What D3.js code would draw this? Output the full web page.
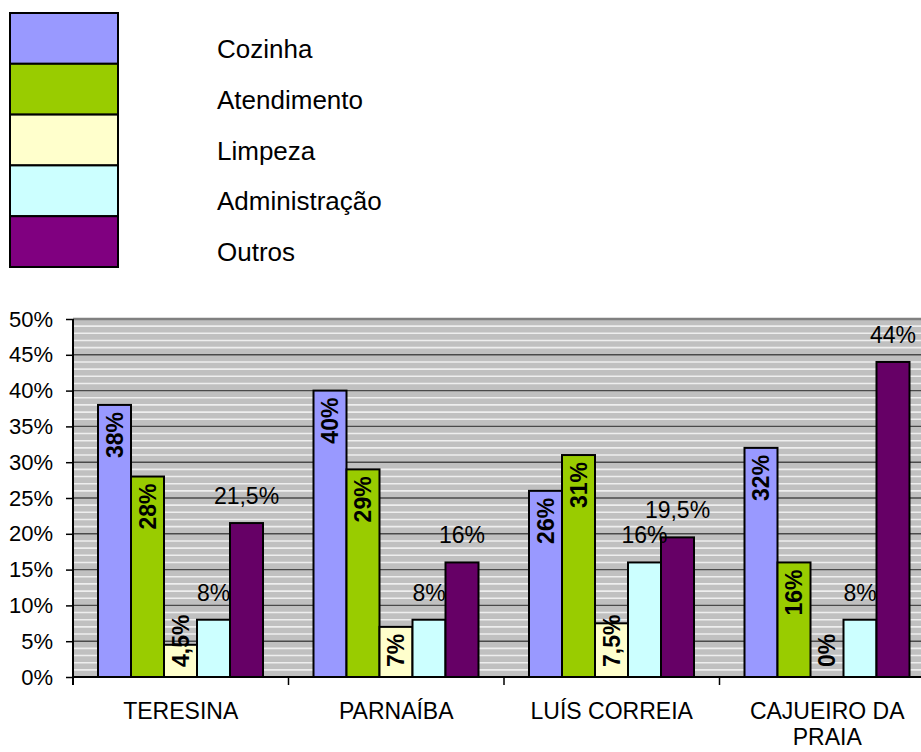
<!DOCTYPE html>
<html>
<head>
<meta charset="utf-8">
<script src="https://cdn.jsdelivr.net/npm/d3@7"></script>
<style>
  html, body { margin: 0; padding: 0; background: #fff; }
  svg { display: block; font-family: "Liberation Sans", Arial, sans-serif; }
</style>
</head>
<body>
<svg id="chart" width="921" height="752"></svg>
<script>
// ---- data ----
const categories = ["TERESINA", "PARNAÍBA", "LUÍS CORREIA", "CAJUEIRO DA PRAIA"];
const seriesNames = ["Cozinha", "Atendimento", "Limpeza", "Administração", "Outros"];
const cozinha = [38, 40, 26, 32];
const atendimento = [28, 29, 31, 16];
const limpeza = [4.5, 7, 7.5, 0];
const administracao = [8, 8, 16, 8];
const outros = [21.5, 16, 19.5, 44];
const yTickValues = [0, 5, 10, 15, 20, 25, 30, 35, 40, 45, 50];

(function() {
// ---- styles ----
const barColors = ["#9999ff", "#99cc00", "#ffffcc", "#ccffff", "#660066"];
const legendColors = ["#9999ff", "#99cc00", "#ffffcc", "#ccffff", "#800080"];
const labelModes = ["inside", "inside", "inside", "above", "above"];

const seriesValues = [cozinha, atendimento, limpeza, administracao, outros];
const fmt = v => String(v).replace(".", ",") + "%";

const svg = d3.select("#chart");
const pLeft = 73, pTop = 319, pBottom = 677, bandW = 215.5;
const pRight = pLeft + bandW * categories.length;

const x0 = d3.scaleBand().domain(categories).range([pLeft, pRight]).paddingInner(0).paddingOuter(0);
const x1 = d3.scaleBand().domain(seriesNames).range([25, bandW - 25.5]).padding(0);
const y = d3.scaleLinear().domain([0, 50]).range([pBottom, pTop]);

// ---- plot background ----
svg.append("rect").attr("x", pLeft).attr("y", pTop).attr("width", pRight - pLeft).attr("height", pBottom - pTop)
  .attr("fill", "#c0c0c0");

// minor stripes at each 1%
const minor = d3.range(1, 50).filter(v => v % 5 !== 0);
svg.append("g").selectAll("line").data(minor).join("line")
  .attr("x1", pLeft).attr("x2", pRight)
  .attr("y1", d => y(d)).attr("y2", d => y(d))
  .attr("stroke", "#eeeeee").attr("stroke-width", 1.6);

// major gridlines
svg.append("g").selectAll("line").data(yTickValues.filter(v => v > 0 && v < 50)).join("line")
  .attr("x1", pLeft).attr("x2", pRight)
  .attr("y1", d => y(d)).attr("y2", d => y(d))
  .attr("stroke", "#4a4a4a").attr("stroke-width", 1.4);
svg.append("line").attr("x1", pLeft).attr("x2", pRight).attr("y1", y(50)).attr("y2", y(50))
  .attr("stroke", "#808080").attr("stroke-width", 2.5);

// ---- bars ----
const groups = svg.append("g").selectAll("g").data(categories).join("g")
  .attr("transform", d => `translate(${x0(d)},0)`);

groups.each(function(cat, ci) {
  const g = d3.select(this);
  seriesNames.forEach((s, si) => {
    const v = seriesValues[si][ci];
    g.append("rect")
      .attr("x", x1(s)).attr("y", y(v))
      .attr("width", x1.bandwidth()).attr("height", y(0) - y(v))
      .attr("fill", barColors[si]).attr("stroke", "#000").attr("stroke-width", 2);
  });
});

// ---- labels ----
groups.each(function(cat, ci) {
  const g = d3.select(this);
  seriesNames.forEach((s, si) => {
    const v = seriesValues[si][ci];
    const cx = x1(s) + x1.bandwidth() / 2;
    if (labelModes[si] === "above") {
      g.append("text").attr("x", cx).attr("y", y(v) - 19)
        .attr("text-anchor", "middle").attr("font-size", 23).attr("fill", "#000")
        .text(fmt(v));
    } else {
      const t = g.append("text").attr("font-size", 23).attr("font-weight", "bold")
        .attr("fill", "#000").attr("text-anchor", "start").attr("dy", "0.36em").text(fmt(v));
      const len = t.node().getComputedTextLength();
      let startY = y(v) + 7 + len;
      if (startY > pBottom - 10) startY = pBottom - 10;
      t.attr("transform", `translate(${cx},${startY}) rotate(-90)`);
    }
  });
});

// ---- axes ----
const yAxis = d3.axisLeft(y).tickValues(yTickValues).tickSize(7).tickPadding(13)
  .tickFormat(d => d + "%");
const ya = svg.append("g").attr("transform", `translate(${pLeft},0)`).call(yAxis);
ya.select(".domain").attr("stroke", "#000").attr("stroke-width", 2).attr("d", `M0,${pTop}V${pBottom + 8}`);
ya.selectAll(".tick line").attr("stroke", "#000").attr("stroke-width", 1.5);
ya.selectAll(".tick text").attr("font-size", 22).attr("fill", "#000")
  .attr("font-family", "'Liberation Sans', Arial, sans-serif");

// x axis baseline and ticks at band boundaries
svg.append("line").attr("x1", pLeft).attr("x2", pRight).attr("y1", pBottom).attr("y2", pBottom)
  .attr("stroke", "#000").attr("stroke-width", 2);
const bounds = categories.map(c => x0(c)).concat([pRight]);
svg.append("g").selectAll("line").data(bounds).join("line")
  .attr("x1", d => d).attr("x2", d => d).attr("y1", pBottom).attr("y2", pBottom + 8)
  .attr("stroke", "#000").attr("stroke-width", 1.5);

// category labels with wrapping
const catG = svg.append("g");
categories.forEach(c => {
  const cx = x0(c) + x0.bandwidth() / 2;
  const t = catG.append("text").attr("x", cx).attr("y", 719).attr("text-anchor", "middle")
    .attr("font-size", 23).attr("fill", "#000");
  const words = c.split(" ");
  let line = [];
  let tspan = t.append("tspan").attr("x", cx).attr("dy", 0);
  words.forEach(w => {
    line.push(w);
    tspan.text(line.join(" "));
    if (tspan.node().getComputedTextLength() > 195 && line.length > 1) {
      line.pop();
      tspan.text(line.join(" "));
      line = [w];
      tspan = t.append("tspan").attr("x", cx).attr("dy", 26).text(w);
    }
  });
});

// ---- legend ----
const lg = svg.append("g");
const lx = 10, ly = 13, lw = 108, lh = 50.8;
seriesNames.forEach((s, i) => {
  lg.append("rect").attr("x", lx).attr("y", ly + i * lh).attr("width", lw).attr("height", lh)
    .attr("fill", legendColors[i]).attr("stroke", "#000").attr("stroke-width", 2);
  lg.append("text").attr("x", 217).attr("y", ly + i * lh + 45)
    .attr("font-size", 26).attr("fill", "#000").text(s);
});
})();
</script>
</body>
</html>
